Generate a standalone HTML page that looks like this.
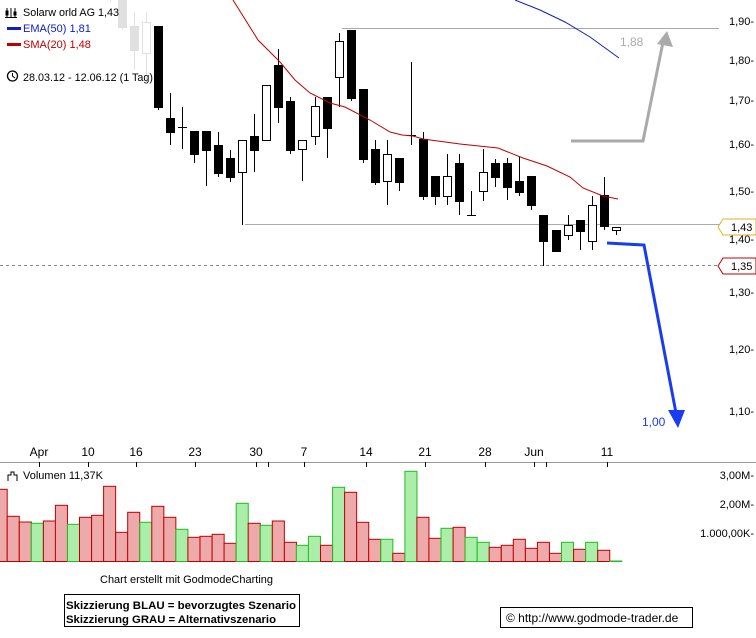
<!DOCTYPE html>
<html><head><meta charset="utf-8"><style>
html,body{margin:0;padding:0;background:#fff;}
svg{display:block;font-family:"Liberation Sans",sans-serif;}
</style></head><body>
<svg id="s" width="756" height="638" viewBox="0 0 756 638" xmlns="http://www.w3.org/2000/svg">
<rect width="756" height="638" fill="#fff"/>
<g id="grid">
<line x1="342" y1="28.5" x2="719" y2="28.5" stroke="#aaa"/>
<line x1="245" y1="224.5" x2="719" y2="224.5" stroke="#aaa"/>
<line x1="0" y1="265.5" x2="719" y2="265.5" stroke="#888" stroke-dasharray="3,3"/>
</g>
<g id="candles"></g>
<polyline fill="none" stroke="#c00000" stroke-width="1" points="233,0 258,40 280,62 295,80 310,93 330,103 345,107 370,120 390,132 402,135 413,136 423,139 460,144 498,148 523,158 547,166 570,177 583,188 603,196 618,199"/>
<polyline fill="none" stroke="#1020c0" stroke-width="1" points="515,0 540,10 565,22 590,37 619,58"/>
<rect x="0" y="0" width="154" height="83" fill="#fff" opacity="0.88"/>
<g font-size="11">
<g stroke="#000" fill="none"><line x1="7" y1="8" x2="7" y2="17"/><line x1="11" y1="8" x2="11" y2="17"/><line x1="15" y1="8" x2="15" y2="17"/><rect x="6" y="11" width="2" height="4"/><rect x="14" y="12" width="2" height="3"/><line x1="5" y1="17.5" x2="17" y2="17.5"/></g>
<text x="23" y="16" fill="#000" textLength="96" lengthAdjust="spacingAndGlyphs">Solarw orld AG 1,43</text>
<rect x="7" y="27" width="14" height="3" fill="#1020c0"/>
<text x="23" y="32" fill="#1020c0">EMA(50) 1,81</text>
<rect x="7" y="43" width="14" height="3" fill="#c00000"/>
<text x="23" y="48" fill="#c00000">SMA(20) 1,48</text>
<circle cx="12.5" cy="76" r="5" fill="none" stroke="#000" stroke-width="1.3"/><polyline points="12.5,73 12.5,76 15,78" fill="none" stroke="#000"/>
<text x="23" y="81" fill="#000" textLength="130" lengthAdjust="spacingAndGlyphs">28.03.12 - 12.06.12 (1 Tag)</text>
</g>
<polyline fill="none" stroke="#aaa" stroke-width="3" points="571,141 643,141 663,42"/>
<polygon fill="#aaa" points="667,31 657,44 673,47"/>
<text x="620" y="46" font-size="12" fill="#aaa">1,88</text>
<polyline fill="none" stroke="#1a3cf0" stroke-width="3" points="607,243 644,245 676,413"/>
<polygon fill="#1a3cf0" points="678,428 668,410 685,410"/>
<text x="642" y="426" font-size="12" fill="#1a3cf0">1,00</text>
<g font-size="11" fill="#000" id="yax"></g>
<polygon points="718,227 723,219 756,219 756,235 723,235" fill="#fff" stroke="#e0b020"/>
<text x="731" y="231" font-size="11">1,43</text>
<polygon points="718,266 723,258 756,258 756,274 723,274" fill="#fff" stroke="#c00000"/>
<text x="731" y="270" font-size="11">1,35</text>
<line x1="0" y1="462.5" x2="756" y2="462.5" stroke="#999"/>
<g font-size="12" fill="#000" text-anchor="middle" id="xax"></g>
<g font-size="11">
<g stroke="#000" fill="none"><polyline points="8,481 8,475 11,475 11,472 14,472 14,475 17,475 17,481"/></g>
<text x="23" y="479">Volumen 11,37K</text>
<text x="754" y="479" text-anchor="end">3,00M-</text>
<text x="754" y="508" text-anchor="end">2,00M-</text>
<text x="754" y="537" text-anchor="end">1.000,00K-</text>
</g>
<g id="vol"></g>
<text x="100" y="583" font-size="11">Chart erstellt mit GodmodeCharting</text>
<rect x="64.5" y="594.5" width="235" height="32" fill="#fff" stroke="#000"/>
<text x="66" y="609" font-size="11" font-weight="bold" textLength="230" lengthAdjust="spacingAndGlyphs">Skizzierung BLAU = bevorzugtes Szenario</text>
<text x="66" y="623" font-size="11" font-weight="bold" textLength="210" lengthAdjust="spacingAndGlyphs">Skizzierung GRAU = Alternativszenario</text>
<rect x="500.5" y="607.5" width="192" height="20" fill="#fff" stroke="#000"/>
<text x="506" y="622" font-size="12">© http://www.godmode-trader.de</text>
</svg>
<script>
var NS="http://www.w3.org/2000/svg";
function el(p,t,a){var e=document.createElementNS(NS,t);for(var k in a)e.setAttribute(k,a[k]);p.appendChild(e);return e;}
var cg=document.getElementById("candles");
var C=[[10,-10,-5,-10,2,0],[11,0,27,0,30,0],[12,26,50,12,70,0],[13,22,53,12,82,1],[14,26,107,26,110,0],
[15,118,132,93,145,0],[16,127,127,107,149,2],[17,131,154,131,163,0],[18,131,150,131,186,0],[19,145,173,132,177,0],
[20,158,177,150,182,0],[21,140,172,140,225,1],[22,136,150,114,172,0],[23,85,140,85,140,1],[24,65,107,49,123,0],
[25,101,150,97,154,0],[26,140,149,140,181,1],[27,106,136,97,145,1],[28,97,128,97,158,0],[29,41,77,33,107,1],
[30,30,98,30,101,0],[31,89,159,89,163,0],[32,149,182,140,185,0],[33,154,181,140,205,1],[34,158,182,158,191,0],
[35,135,136,62,145,2],[36,139,196,132,200,0],[37,176,196,176,205,0],[38,176,196,154,205,1],[39,163,201,154,215,0],
[40,215,215,191,215,2],[41,172,191,149,201,1],[42,163,177,159,187,0],[43,163,187,158,200,0],[44,181,192,157,196,0],
[45,176,205,176,210,0],[46,215,241,215,266,0],[47,230,251,230,251,0],[48,225,235,215,240,1],[49,220,231,220,250,0],
[50,205,241,196,250,1],[51,195,226,177,230,0],[52,227,230,227,235,1]];
C.forEach(function(c){var x=Math.round(121.7+(c[0]-11)*12.05);
 el(cg,"line",{x1:x+0.5,x2:x+0.5,y1:c[3],y2:c[4],stroke:"#000"});
 if(c[5]==2){el(cg,"line",{x1:x-4,x2:x+5,y1:c[1]+0.5,y2:c[1]+0.5,stroke:"#000"});}
 else el(cg,"rect",{x:x-3.5,y:c[1]+0.5,width:8,height:Math.max(1,c[2]-c[1]),fill:c[5]?"#fff":"#000",stroke:"#000"});
});
var ya=document.getElementById("yax");
[["1,90",25],["1,80",64],["1,70",104],["1,60",148],["1,50",195],["1,40",243],["1,30",296],["1,20",353],["1,10",415]].forEach(function(a){
 var t=el(ya,"text",{x:729,y:a[1]});t.textContent=a[0]+"-";});
var xa=document.getElementById("xax");
[["Apr",39],["10",88],["16",136],["23",195],["30",256],["7",304],["14",366],["21",425],["28",485],["Jun",534],["11",607]].forEach(function(a){
 var t=el(xa,"text",{x:a[1],y:456});t.textContent=a[0];
 el(xa,"line",{x1:a[1]+0.5,x2:a[1]+0.5,y1:462,y2:467,stroke:"#000"});
 el(xa,"line",{x1:a[1]+0.5,x2:a[1]+0.5,y1:557,y2:561,stroke:"#000"});
});
[268,546].forEach(function(x){el(xa,"line",{x1:x+0.5,x2:x+0.5,y1:462,y2:467,stroke:"#000"});el(xa,"line",{x1:x+0.5,x2:x+0.5,y1:557,y2:561,stroke:"#000"});});
var V=[[148,0],[229,0],[246,0],[250,1],[243,0],[196,0],[253,1],[232,0],[226,0],[139,0],[277,0],[217,0],[247,1],[199,0],[232,0],[268,1],[292,0],[289,0],[283,0],[310,0],[190,1],[250,0],[256,1],[243,0],[307,0],[316,1],[289,1],[316,0],[142,1],[157,0],[247,0],[298,0],[298,1],[340,0],[94,1],[232,0],[295,0],[265,1],[262,0],[292,1],[307,1],[322,0],[316,0],[298,0],[325,0],[307,0],[340,0],[307,1],[328,0],[307,1],[331,0],[363,1]];
var vg=document.getElementById("vol");var base=561.5;
V.forEach(function(v,i){var top=440+v[0]/3;var x0=i==0?-5:7.2+(i-1)*12.05;var w=i==0?12.2:12.05;
 el(vg,"rect",{x:x0.toFixed(1),y:top.toFixed(1),width:w,height:(base-top).toFixed(1),fill:v[1]?"#aaeeaa":"#eeaaaa",stroke:v[1]?"#22bb22":"#c00000","stroke-width":1});});
</script>
</body></html>
